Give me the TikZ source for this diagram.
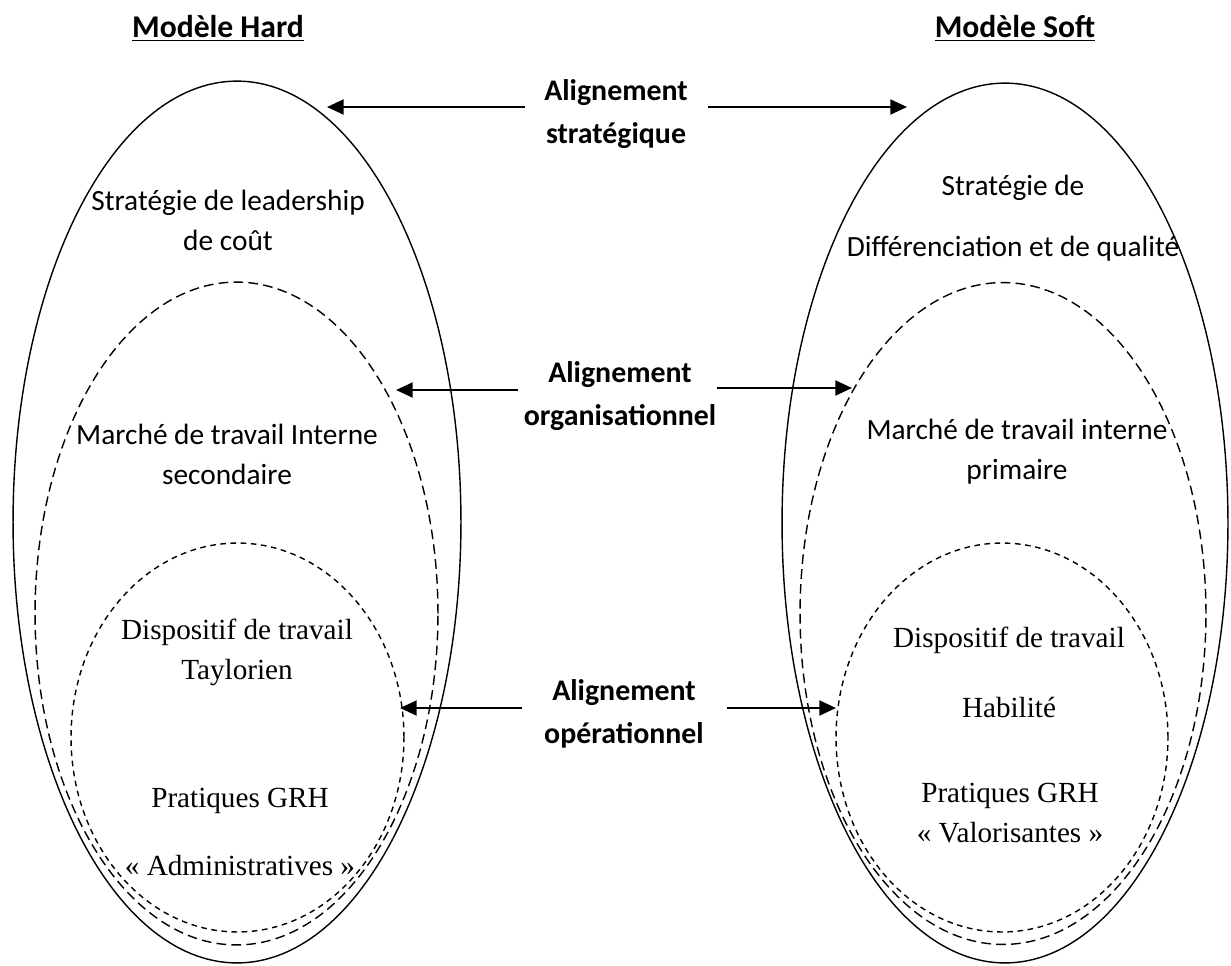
\documentclass[tikz,border=0pt]{standalone}
\usepackage{fontspec}
\setmainfont{Carlito}
\newfontfamily\timesfont{Liberation Serif}
\usetikzlibrary{shapes.geometric,arrows.meta}

\tikzset{
  ring/.style={draw, ellipse, line width=0.8pt, inner sep=0pt},
  midring/.style={ring, dash pattern=on 5.5pt off 3pt},
  smallring/.style={ring, dash pattern=on 3.2pt off 2.6pt},
  alignarrow/.style={-{Triangle[length=9.5pt,width=8.5pt]}, line width=1.3pt},
  modeltitle/.style={font=\fontsize{18}{22}\selectfont\bfseries},
  alignlabel/.style={align=center, font=\fontsize{17}{24.5}\selectfont\bfseries},
  calilabel/.style={align=center, font=\fontsize{16.7}{22.8}\selectfont},
  timeslabel/.style={align=center, font=\timesfont\fontsize{16.6}{22.8}\selectfont},
}

\begin{document}
\begin{tikzpicture}[x=0.02cm, y=-0.02cm]
    \useasboundingbox (0,0) rectangle (1231,965);
    % titles
    \node [modeltitle] (hardTitle) at (218,28) {\underline{Modèle Hard}};
    \node [modeltitle] (softTitle) at (1015,28) {\underline{Modèle Soft}};

    % rings of the hard model
    \node [ring, minimum width=8.96cm, minimum height=17.64cm] (hardOuter) at (237,522) {};
    \node [midring, minimum width=8.06cm, minimum height=13.26cm] (hardMid) at (236.5,613.5) {};
    \node [smallring, minimum width=6.66cm, minimum height=7.78cm] (hardSmall) at (237.5,737.5) {};

    % rings of the soft model
    \node [ring, minimum width=8.92cm, minimum height=17.6cm] (softOuter) at (1005,523) {};
    \node [midring, minimum width=8.12cm, minimum height=13.24cm] (softMid) at (1003,613.5) {};
    \node [smallring, minimum width=6.64cm, minimum height=7.78cm] (softSmall) at (1002,737.5) {};

    % texts of the hard model
    \node [calilabel] (stratHard) at (228,220) {Stratégie de leadership\\de coût};
    \node [calilabel] (marcheHard) at (227,454) {Marché de travail Interne\\secondaire};
    \node [timeslabel] (dispHard) at (237,652) {Dispositif de travail\\Taylorien};
    \node [timeslabel] (pratHard) at (240,832) {Pratiques GRH\\[16pt]« Administratives »};

    % texts of the soft model
    \node [calilabel] (stratSoft) at (1013,218) {Stratégie de\\[12pt]Différenciation et de qualité};
    \node [calilabel] (marcheSoft) at (1017,452) {Marché de travail interne\\primaire};
    \node [timeslabel] (dispSoft) at (1009,640) {Dispositif de travail};
    \node [timeslabel] (habSoft) at (1009,707) {Habilité};
    \node [timeslabel] (pratSoft) at (1010,813) {Pratiques GRH\\« Valorisantes »};

    % alignments
    \node [alignlabel] (alignStrat) at (616,114) {Alignement\\stratégique};
    \node [alignlabel] (alignOrg) at (620,396) {Alignement\\organisationnel};
    \node [alignlabel] (alignOp) at (624,714) {Alignement\\opérationnel};

    \coordinate (stratLa) at (525,107);  \coordinate (stratLb) at (327,107);
    \coordinate (stratRa) at (708,107);  \coordinate (stratRb) at (907,107);
    \coordinate (orgLa) at (518,390);    \coordinate (orgLb) at (396,390);
    \coordinate (orgRa) at (717,388);    \coordinate (orgRb) at (852,388);
    \coordinate (opLa) at (522,708);     \coordinate (opLb) at (400,708);
    \coordinate (opRa) at (727,708);     \coordinate (opRb) at (836,708);

    \draw [alignarrow] (stratLa) -- (stratLb);
    \draw [alignarrow] (stratRa) -- (stratRb);
    \draw [alignarrow] (orgLa) -- (orgLb);
    \draw [alignarrow] (orgRa) -- (orgRb);
    \draw [alignarrow] (opLa) -- (opLb);
    \draw [alignarrow] (opRa) -- (opRb);
\end{tikzpicture}
\end{document}
